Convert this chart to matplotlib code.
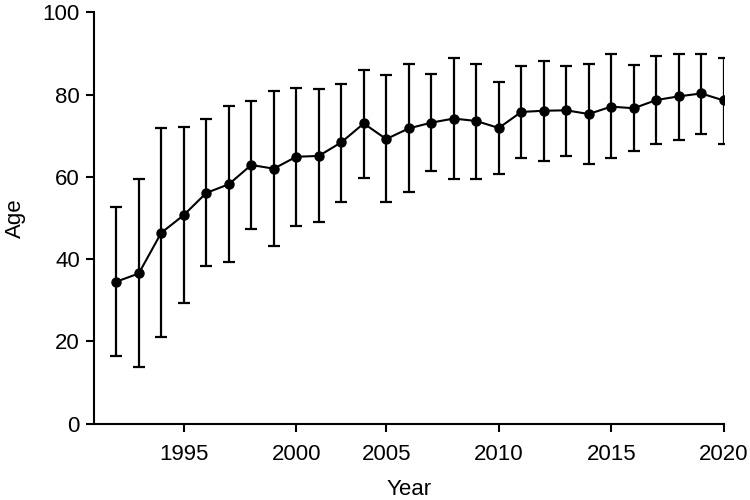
import matplotlib.pyplot as plt
import numpy as np

plt.rcParams['font.family'] = ['Liberation Sans', 'DejaVu Sans']

# one year is missing between 2000 and 2005 (categorical x axis)
years = [1992, 1993, 1994, 1995, 1996, 1997, 1998, 1999, 2000, 2001, 2003, 2004,
         2005, 2006, 2007, 2008, 2009, 2010, 2011, 2012, 2013, 2014, 2015, 2016,
         2017, 2018, 2019, 2020]
mean_age = [34.5, 36.5, 46.4, 50.7, 56.1, 58.2, 62.9, 62.0, 64.9, 65.1, 68.4, 73.0,
            69.2, 71.8, 73.2, 74.2, 73.6, 71.9, 75.8, 76.1, 76.2, 75.3, 77.1, 76.7,
            78.7, 79.6, 80.3, 78.6]
upper = [52.6, 59.4, 71.9, 72.2, 74.1, 77.3, 78.5, 81.0, 81.7, 81.3, 82.7, 86.1,
         84.7, 87.4, 85.0, 88.9, 87.4, 83.0, 87.0, 88.1, 86.9, 87.5, 89.9, 87.3,
         89.3, 90.0, 90.0, 88.9]
lower = [16.4, 13.8, 21.1, 29.2, 38.3, 39.3, 47.4, 43.2, 48.1, 49.1, 53.9, 59.8,
         54.0, 56.3, 61.4, 59.4, 59.6, 60.8, 64.7, 63.9, 65.2, 63.2, 64.5, 66.3,
         68.0, 69.0, 70.5, 68.1]
tick_years = [1995, 2000, 2005, 2010, 2015, 2020]

x = np.arange(len(years))
mean_age = np.array(mean_age)
yerr = [mean_age - np.array(lower), np.array(upper) - mean_age]

fig = plt.figure(figsize=(7.5, 5), dpi=100)
ax = fig.add_axes([0.125, 0.153, 0.84, 0.822])

ax.errorbar(x, mean_age, yerr=yerr, color="black", marker="o", markersize=6.5,
            linewidth=1.5, elinewidth=1.6, capsize=4.5, capthick=1.6)

ax.set_xlim(-1, len(years) - 1)
ax.set_ylim(0, 100)
ax.set_yticks([0, 20, 40, 60, 80, 100])
ax.set_xticks([years.index(y) for y in tick_years])
ax.set_xticklabels([str(y) for y in tick_years])

for s in ["top", "right"]:
    ax.spines[s].set_visible(False)
for s in ["left", "bottom"]:
    ax.spines[s].set_linewidth(1.5)
ax.tick_params(width=1.5, length=6, labelsize=16)
ax.tick_params(axis="x", pad=9)
ax.tick_params(axis="y", pad=4)

ax.set_xlabel("Year", fontsize=16, labelpad=10)
ax.set_ylabel("Age", fontsize=16, labelpad=12)

plt.savefig("out.png", dpi=100)
